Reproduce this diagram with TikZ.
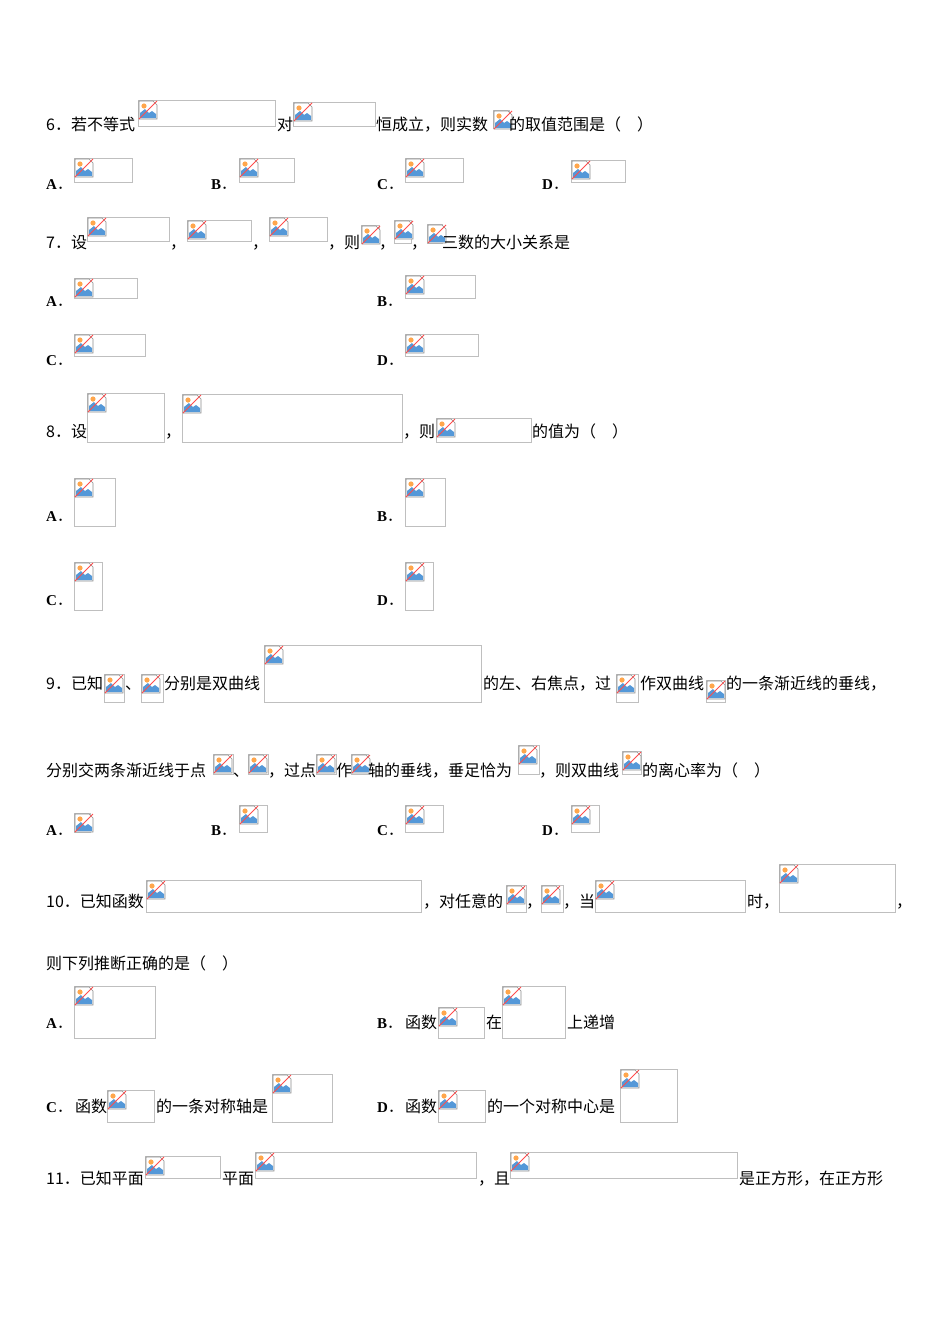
\documentclass[tikz,border=0pt]{standalone}
\usepackage{fontspec}
\setmainfont{Liberation Serif}
\newfontfamily\cjk{Noto Sans CJK SC}
\newcommand\pbox[4]{%
  \draw[boxline] (#1,#2) rectangle (#3,#4);
  \begin{scope}[shift={(#1+1,#2+1)}]
    \draw[black!45,fill=white,line width=0.6pt] (0,0) -- (14,0) -- (18,4) -- (18,18) -- (0,18) -- cycle;
    \fill[orange!70] (5,5) circle (2.6);
    \fill[cyan!60!blue!70] (1,17) -- (1,12) -- (6,8) -- (10,12) -- (13,10) -- (17,13) -- (17,17) -- cycle;
    \draw[red!70,line width=0.9pt] (0,18) -- (18,0);
  \end{scope}}
\newcommand\tx[3]{\node[txt] at (#1,#2) {#3};}
\newcommand\lb[3]{\node[lbl] at (#1,#2) {#3{\cjk\mdseries ．}};}
\begin{document}
\begin{tikzpicture}[x=1pt,y=-1pt,
  boxline/.style={draw=black!25,line width=0.7pt},
  txt/.style={anchor=base west,inner sep=0,font=\cjk\fontsize{16}{18}\selectfont},
  lbl/.style={anchor=base west,inner sep=0,font=\bfseries\fontsize{15}{18}\selectfont}]
\useasboundingbox[fill=white] (0,0) rectangle (950,1344);
% 6
\tx{46}{130}{6．若不等式}\pbox{138}{100}{275}{126}\tx{277}{130}{对}\pbox{293}{102}{375}{126}
\tx{376}{130}{恒成立，则实数}\pbox{493}{110}{509}{128}\tx{509}{130}{的取值范围是（　）}
\lb{46}{189}{A}\pbox{74}{158}{132}{182}\lb{211}{189}{B}\pbox{239}{158}{294}{182}
\lb{377}{189}{C}\pbox{405}{158}{463}{182}\lb{542}{189}{D}\pbox{571}{160}{625}{182}
% 7
\tx{46}{248}{7．设}\pbox{87}{217}{169}{241}\tx{170}{248}{，}\pbox{187}{220}{251}{241}\tx{252}{248}{，}
\pbox{269}{217}{327}{241}\tx{328}{248}{，则}\pbox{361}{225}{379}{243}\tx{379}{248}{，}
\pbox{394}{220}{411}{243}\tx{411}{248}{，}\pbox{427}{224}{442}{243}\tx{442}{248}{三数的大小关系是}
\lb{46}{306}{A}\pbox{74}{278}{137}{298}\lb{377}{306}{B}\pbox{405}{275}{475}{298}
\lb{46}{365}{C}\pbox{74}{334}{145}{356}\lb{377}{365}{D}\pbox{405}{334}{478}{356}
% 8
\tx{46}{437}{8．设}\pbox{87}{393}{164}{442}\tx{165}{437}{，}\pbox{182}{394}{402}{442}
\tx{403}{437}{，则}\pbox{436}{418}{531}{442}\tx{532}{437}{的值为（　）}
\lb{46}{521}{A}\pbox{74}{478}{115}{526}\lb{377}{521}{B}\pbox{405}{478}{445}{526}
\lb{46}{605}{C}\pbox{74}{562}{102}{610}\lb{377}{605}{D}\pbox{405}{562}{433}{610}
% 9
\tx{46}{689}{9．已知}\pbox{104}{674}{124}{702}\tx{125}{689}{、}\pbox{141}{674}{163}{702}
\tx{164}{689}{分别是双曲线}\pbox{264}{645}{481}{702}\tx{483}{689}{的左、右焦点，过}
\pbox{616}{674}{638}{702}\tx{640}{689}{作双曲线}\pbox{706}{680}{725}{702}\tx{726}{689}{的一条渐近线的垂线，}
\tx{46}{776}{分别交两条渐近线于点}\pbox{213}{754}{233}{774}\tx{233}{776}{、}\pbox{248}{754}{268}{774}
\tx{268}{776}{，过点}\pbox{316}{754}{336}{774}\tx{336}{776}{作}\pbox{351}{754}{368}{774}
\tx{368}{776}{轴的垂线，垂足恰为}\pbox{518}{745}{539}{774}\tx{539}{776}{，则双曲线}
\pbox{622}{751}{641}{774}\tx{642}{776}{的离心率为（　）}
\lb{46}{835}{A}\pbox{74}{813}{90}{832}\lb{211}{835}{B}\pbox{239}{805}{267}{832}
\lb{377}{835}{C}\pbox{405}{805}{443}{832}\lb{542}{835}{D}\pbox{571}{805}{599}{832}
% 10
\tx{46}{907}{10．已知函数}\pbox{146}{880}{421}{912}\tx{423}{907}{，对任意的}\pbox{506}{885}{526}{912}
\tx{526}{907}{，}\pbox{541}{885}{563}{912}\tx{563}{907}{，当}\pbox{595}{880}{745}{912}
\tx{747}{907}{时，}\pbox{779}{864}{895}{912}\tx{896}{907}{，}
\tx{46}{969}{则下列推断正确的是（　）}
\lb{46}{1028}{A}\pbox{74}{986}{155}{1038}
\lb{377}{1028}{B}\tx{405}{1028}{函数}\pbox{438}{1007}{484}{1038}\tx{486}{1028}{在}\pbox{502}{986}{565}{1038}\tx{567}{1028}{上递增}
\lb{46}{1112}{C}\tx{75}{1112}{函数}\pbox{107}{1090}{154}{1122}\tx{156}{1112}{的一条对称轴是}\pbox{272}{1074}{332}{1122}
\lb{377}{1112}{D}\tx{405}{1112}{函数}\pbox{438}{1090}{485}{1122}\tx{487}{1112}{的一个对称中心是}\pbox{620}{1069}{677}{1122}
% 11
\tx{46}{1184}{11．已知平面}\pbox{145}{1156}{220}{1178}\tx{222}{1184}{平面}\pbox{255}{1152}{476}{1178}
\tx{478}{1184}{，且}\pbox{510}{1152}{737}{1178}\tx{739}{1184}{是正方形，在正方形}
\end{tikzpicture}
\end{document}
